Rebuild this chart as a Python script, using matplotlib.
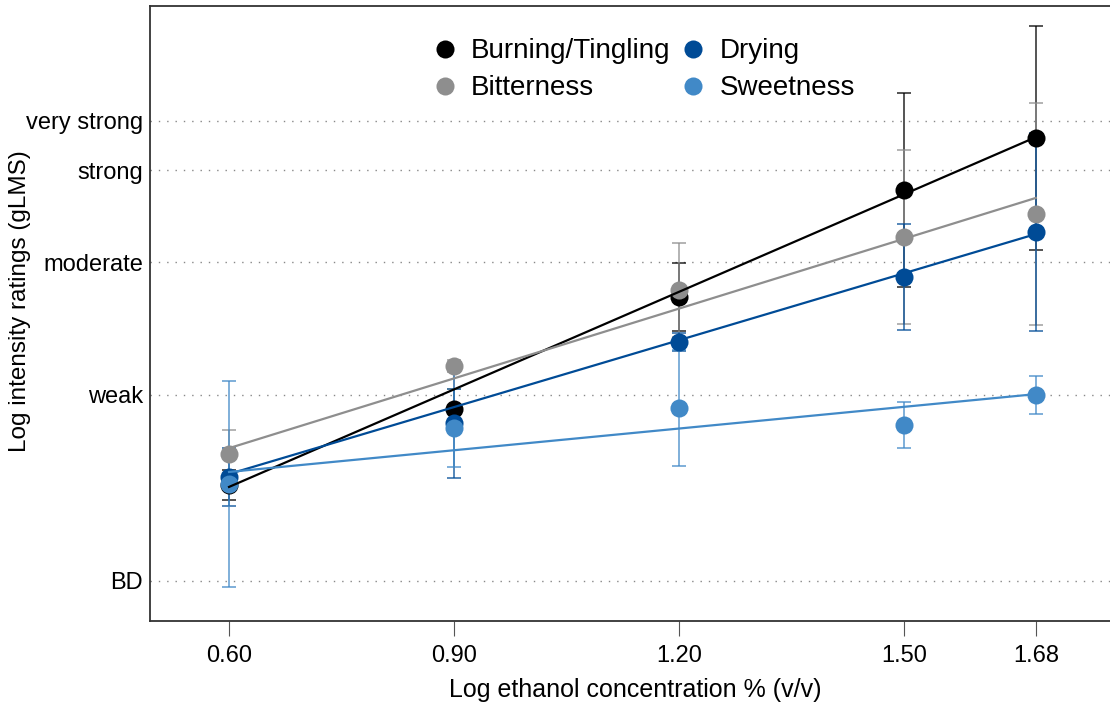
import numpy as np
import matplotlib
matplotlib.use("Agg")
import matplotlib.pyplot as plt
from matplotlib.lines import Line2D

plt.rcParams['font.family'] = ['Liberation Sans', 'DejaVu Sans']

# x: log ethanol concentration
x_vals = [0.602, 0.903, 1.204, 1.505, 1.681]
x_labels = ["0.60", "0.90", "1.20", "1.50", "1.68"]

# y reference ticks: gLMS descriptors (log10 of gLMS value)
y_ticks = [np.log10(1.4), np.log10(6), np.log10(17), np.log10(35), np.log10(51.5)]
y_labels = ["BD", "weak", "moderate", "strong", "very strong"]

series_names = ["Burning/Tingling", "Bitterness", "Drying", "Sweetness"]
series_colors = ["#000000", "#8e8e8e", "#004b96", "#4189c7"]

burning = [0.472, 0.730, 1.112, 1.476, 1.653]
burning_err = [0.05, 0.07, 0.116, 0.33, 0.38]
bitterness = [0.577, 0.877, 1.136, 1.316, 1.394]
bitterness_err = [0.082, 0.02, 0.16, 0.296, 0.378]
drying = [0.499, 0.683, 0.959, 1.180, 1.333]
drying_err = [0.099, 0.187, 0.03, 0.18, 0.337]
sweetness = [0.475, 0.666, 0.734, 0.676, 0.778]
sweetness_err = [0.35, 0.133, 0.197, 0.078, 0.065]

# fitted regression lines (value at first and last concentration)
fit_start = [0.465, 0.597, 0.509, 0.516]
fit_end = [1.656, 1.449, 1.326, 0.781]

values = [burning, bitterness, drying, sweetness]
errors = [burning_err, bitterness_err, drying_err, sweetness_err]

fig = plt.figure(figsize=(11.1, 7.02), dpi=100)
ax = fig.add_axes([150/1110, 1-621/702, 1.01-150/1110, (621-6)/702])

for v, e, c in zip(values, errors, series_colors):
    ax.errorbar(x_vals, v, yerr=e, fmt='none', ecolor=c, elinewidth=1.1,
                capsize=5, capthick=1.1, alpha=0.85, zorder=2)
    ax.plot(x_vals, v, 'o', color=c, ms=13, mec='none', zorder=3)

for s, e_, c in zip(fit_start, fit_end, series_colors):
    ax.plot([x_vals[0], x_vals[-1]], [s, e_], '-', color=c, lw=1.6, zorder=4)

ax.set_xlim(0.4963, 1.795)
ylo = 0.778 - (621 - 395) / 293.7
yhi = 0.778 + (395 - 6) / 293.7
ax.set_ylim(ylo, yhi)

ax.set_xticks(x_vals)
ax.set_xticklabels(x_labels, fontsize=17)
ax.set_yticks(y_ticks)
ax.set_yticklabels(y_labels, fontsize=17)
ax.tick_params(axis='x', direction='out', length=11, width=0.8, color='#555555', pad=6)
ax.tick_params(axis='y', length=0, pad=5)

for yt in y_ticks:
    ax.axhline(yt, color='#888888', lw=1.0, ls=(0, (1, 5)), zorder=1)

for sp in ax.spines.values():
    sp.set_color('#333333')
    sp.set_linewidth(1.3)

ax.set_xlabel("Log ethanol concentration % (v/v)", fontsize=18, labelpad=8)
fig.text(20/1110, 1-301/702, "Log intensity ratings (gLMS)", fontsize=17.5,
         rotation=90, ha='center', va='center')

handles = [Line2D([], [], ls='none', marker='o', ms=13, color=c, mec='none')
           for c in series_colors]
leg = ax.legend(handles, series_names, ncol=2, loc='upper center',
                bbox_to_anchor=(0.506, 0.988), frameon=False, fontsize=20,
                handletextpad=0.35, columnspacing=0.2, labelspacing=0.4,
                handlelength=1.2)

fig.savefig("out.png", dpi=100)
